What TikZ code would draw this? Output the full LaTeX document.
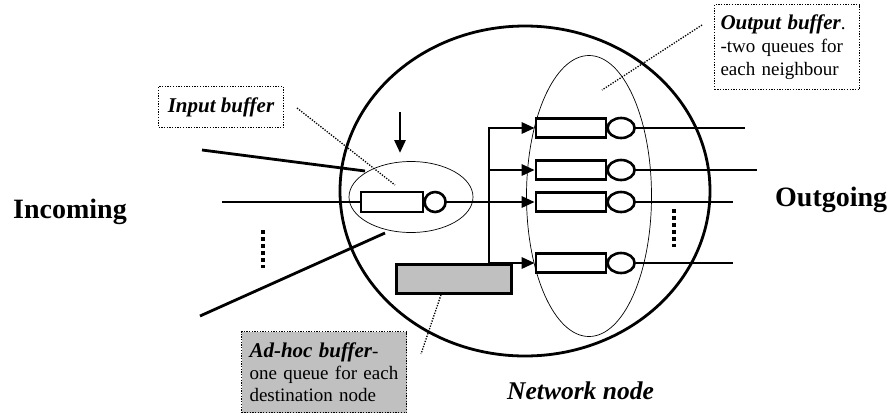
\documentclass[tikz,border=0pt]{standalone}
\usepackage{fontspec}
\setmainfont{Liberation Serif}
\usepackage{tikz}
\usetikzlibrary{shapes.geometric,arrows.meta,positioning}
\definecolor{Buf-grey}{RGB}{192,192,192}

\tikzset{
  queue/.style={draw,line width=2.6pt,rectangle,inner sep=0pt,minimum height=19pt},
  server/.style={draw,line width=2.6pt,ellipse,inner sep=0pt},
  region/.style={draw,ellipse,line width=0.7pt,inner sep=0pt},
  link/.style={line width=2.8pt},
  feed/.style={line width=2.8pt,-{Triangle[length=13pt,width=11pt]}},
  leader/.style={line width=1.3pt,dash pattern=on 1.3pt off 1.4pt},
  note/.style={draw,line width=1.3pt,dash pattern=on 1.3pt off 1.4pt,align=left,inner sep=0pt},
  more/.style={line width=3.5pt,dash pattern=on 3.5pt off 3.5pt},
}

\begin{document}
\begin{tikzpicture}[x=1pt,y=-1pt]
\useasboundingbox (0,0) rectangle (891,416);
%Network node
\node[draw,ellipse,line width=2.8pt,minimum width=370pt,minimum height=330pt,inner sep=0pt] (netnode) at (525,191) {};
%Buffer regions
\node[region,minimum width=124pt,minimum height=71pt] (inreg) at (411,197) {};
\node[region,minimum width=125pt,minimum height=281pt] (outreg) at (589,196) {};

%Input queue
\node[queue,minimum width=62pt,minimum height=20pt] (iq) at (392,202) {};
\node[server,minimum width=21pt,minimum height=20pt,right=-1pt of iq] (is) {};

%Output queues
\foreach \y/\n in {128/1,170/2,202/3,263/4}{
  \node[queue,minimum width=70pt] (oq\n) at (571,\y) {};
  \node[server,minimum width=27pt,minimum height=20pt,right=-1pt of oq\n] (os\n) {};
}

%Ad-hoc queue
\node[draw,fill=Buf-grey,line width=2.6pt,minimum width=115pt,minimum height=29pt,inner sep=0pt] (adhoc) at (454,279) {};

%Bus to the output queues
\coordinate (bustop) at (489,128);
\draw[feed] (adhoc.north -| bustop) -- (bustop) -- (oq1.west);
\draw[feed] (is.east) -- (oq3.west);
\draw[feed] (oq2.west -| bustop) -- (oq2.west);
\draw[feed] (oq4.west -| bustop) -- (oq4.west);

%Outgoing links
\foreach \n/\x/\y in {1/745/128,2/757/170,3/733/202,4/733/263}{
  \coordinate (out\n) at (\x,\y);
  \draw[link] (os\n.east) -- (out\n);
}
\draw[more] (674,209) -- (674,247);

%Incoming links
\coordinate (in1) at (202,150); \coordinate (in1e) at (365,171);
\coordinate (in2) at (222,202);
\coordinate (in3) at (200,316); \coordinate (in3e) at (385,233);
\draw[link] (in1) -- (in1e);
\draw[link] (in2) -- (iq.west);
\draw[link] (in3) -- (in3e);
\draw[more] (263,230) -- (263,268);
\coordinate (drop) at (400,112); \coordinate (dropend) at (400,153);
\draw[feed] (drop) -- (dropend);

%Labels
\node[font=\fontsize{28}{30}\selectfont\bfseries,anchor=base west,inner sep=0pt] (incoming) at (13,218) {Incoming};
\node[font=\fontsize{28}{30}\selectfont\bfseries,anchor=base west,inner sep=0pt] (outgoing) at (775,206) {Outgoing};
\node[font=\fontsize{25.5}{28}\selectfont\bfseries\itshape,anchor=base west,inner sep=0pt] (nettext) at (507,399) {Network node};

%Notes
\node[note,minimum width=125pt,minimum height=41pt,font=\fontsize{21}{24}\selectfont\bfseries\itshape] (innote) at (221,107) {Input buffer};
\node[note,text width=133pt,inner xsep=6pt,minimum height=85pt,font=\fontsize{19}{23}\selectfont] (outnote) at (787,47)
  {{\fontsize{21}{23}\selectfont\bfseries\itshape Output buffer}.\\-two queues for\\each neighbour};
\node[note,fill=Buf-grey,text width=149pt,inner xsep=8pt,minimum height=81pt,font=\fontsize{19}{22}\selectfont] (adnote) at (324,372)
  {{\fontsize{21}{22}\selectfont\bfseries\itshape Ad-hoc buffer}-\\one queue for each\\destination node};

%Leaders
\coordinate (inlead) at (297,108); \coordinate (inpoint) at (395,185);
\coordinate (outlead) at (702,25); \coordinate (outpoint) at (602,90);
\coordinate (adlead) at (441,298); \coordinate (adpoint) at (421,354);
\draw[leader] (inlead) -- (inpoint);
\draw[leader] (outlead) -- (outpoint);
\draw[leader] (adhoc.south -| adlead) -- (adpoint);
\end{tikzpicture}
\end{document}
